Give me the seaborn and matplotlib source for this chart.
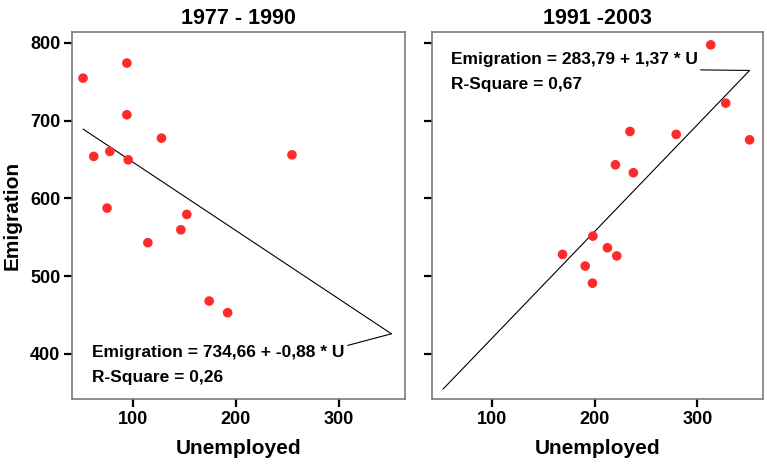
import matplotlib
matplotlib.use("Agg")
import matplotlib.pyplot as plt
import seaborn as sns
import numpy as np
import pandas as pd

# Period 1977-1990
u_early = [51.7, 94.2, 94.2, 127.8, 62.1, 77.7, 95.5, 254.4, 75.0, 152.4, 146.6, 114.6, 174.1, 192.0]
e_early = [754.6, 774.0, 707.5, 677.5, 654.0, 660.4, 649.6, 656.0, 587.5, 579.4, 559.6, 543.0, 468.0, 453.0]

# Period 1991-2003
u_late = [313.0, 327.6, 350.9, 234.2, 279.3, 220.0, 237.5, 198.0, 168.4, 212.2, 221.3, 190.5, 197.6]
e_late = [797.4, 722.5, 675.3, 686.1, 682.3, 643.2, 633.0, 551.5, 528.0, 536.5, 526.0, 513.0, 491.0]

# Fitted linear models (intercept, slope, R-square)
fit_early = (734.66, -0.88, 0.26)
fit_late = (283.79, 1.37, 0.67)

titles = ["1977 - 1990", "1991 -2003"]
x_ticks = [100, 200, 300]
y_ticks = [400, 500, 600, 700, 800]

sns.set_theme(style="white")
plt.rcParams["font.family"] = ["Liberation Sans", "DejaVu Sans"]
plt.rcParams["font.weight"] = "bold"
plt.rcParams["text.color"] = "black"
plt.rcParams["axes.labelcolor"] = "black"
plt.rcParams["xtick.color"] = "black"
plt.rcParams["ytick.color"] = "black"

fig = plt.figure(figsize=(7.67, 4.70), dpi=100)
ax1 = fig.add_axes([0.0939, 0.151, 0.434, 0.781])
ax2 = fig.add_axes([0.5632, 0.151, 0.4316, 0.781])

# fit lines span the pooled range of unemployment
u_all = np.array(u_early + u_late)
u_line = np.array([u_all.min(), u_all.max()])

panels = [
    (ax1, u_early, e_early, fit_early, titles[0]),
    (ax2, u_late, e_late, fit_late, titles[1]),
]

for ax, u, e, fit, title in panels:
    df = pd.DataFrame({"Unemployed": u, "Emigration": e})
    sns.scatterplot(data=df, x="Unemployed", y="Emigration", ax=ax,
                    color="#ff2a2a", s=48, edgecolor="none", zorder=3)
    b0, b1, r2 = fit
    line_df = pd.DataFrame({"Unemployed": u_line, "Emigration": b0 + b1 * u_line})
    sns.lineplot(data=line_df, x="Unemployed", y="Emigration", ax=ax,
                 color="black", linewidth=0.8, zorder=2)

    ax.set_xlim(41, 364)
    ax.set_ylim(342, 814)
    ax.set_xticks(x_ticks)
    ax.set_yticks(y_ticks)
    ax.set_title(title, fontsize=15.5, fontweight="bold", pad=6, color="black")
    ax.set_xlabel("Unemployed", fontsize=15, fontweight="bold", labelpad=8)
    for sp in ax.spines.values():
        sp.set_color("#7a7a7a")
        sp.set_linewidth(1.2)
    ax.tick_params(axis="both", which="major", direction="out", length=5.5,
                   width=1.6, color="black", labelcolor="black", labelsize=13, pad=3,
                   bottom=True, left=True)
    for lab in ax.get_xticklabels() + ax.get_yticklabels():
        lab.set_fontweight("bold")

ax1.set_ylabel("Emigration", fontsize=15, fontweight="bold", labelpad=6)
ax2.set_ylabel("")
ax2.set_yticklabels([])

# equation annotations with a connector to the end of the fit line
x_end = u_line.max()

b0, b1, r2 = fit_early
ax1.annotate(f"Emigration = {b0:.2f} + {b1:.2f} * U\nR-Square = {r2:.2f}".replace(".", ","),
             xy=(x_end, b0 + b1 * x_end), xycoords="data",
             xytext=(0.06, 0.147), textcoords="axes fraction",
             ha="left", va="top", fontsize=12.5, fontweight="bold", linespacing=1.85,
             color="black",
             arrowprops=dict(arrowstyle="-", color="black", lw=0.8,
                             shrinkA=0, shrinkB=0, relpos=(1.0, 0.97)))

b0, b1, r2 = fit_late
ax2.annotate(f"Emigration = {b0:.2f} + {b1:.2f} * U\nR-Square = {r2:.2f}".replace(".", ","),
             xy=(x_end, b0 + b1 * x_end), xycoords="data",
             xytext=(0.056, 0.945), textcoords="axes fraction",
             ha="left", va="top", fontsize=12.5, fontweight="bold", linespacing=1.85,
             color="black",
             arrowprops=dict(arrowstyle="-", color="black", lw=0.8,
                             shrinkA=0, shrinkB=0, relpos=(1.0, 0.56)))

fig.savefig("out.png", dpi=100)
